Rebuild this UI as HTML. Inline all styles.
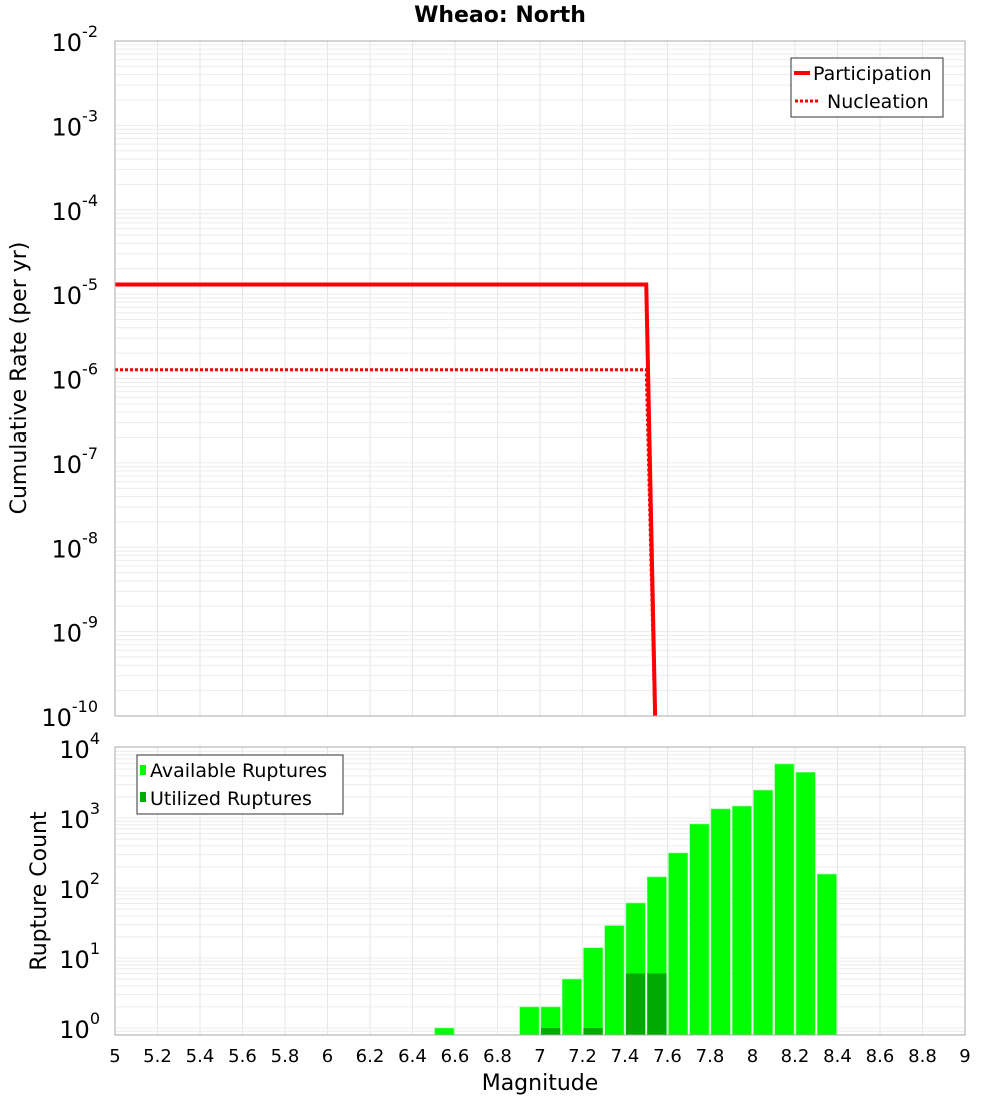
<!DOCTYPE html>
<html><head><meta charset="utf-8"><style>
body{margin:0;background:#fff;font-family:"Liberation Sans","DejaVu Sans",sans-serif}
</style></head><body>
<svg id="c" width="1000" height="1100" xmlns="http://www.w3.org/2000/svg" font-family="DejaVu Sans, Liberation Sans, sans-serif">
<text x="500" y="22" text-anchor="middle" font-weight="bold" font-size="22">Wheao: North</text>
<g id="top"></g><g id="bot"></g>
</svg>
<script>
const rateX=[5,7.5,7.55];
const participation=[1.3e-5,1.3e-5,1e-11];
const nucleation=[1.27e-6,1.27e-6,1e-11];
const binStarts=[6.5,6.9,7.0,7.1,7.2,7.3,7.4,7.5,7.6,7.7,7.8,7.9,8.0,8.1,8.2,8.3];
const available=[1,2,2,5,14,29,61,144,316,820,1350,1480,2500,5900,4500,158];
const utilized=[0,0,1,0,1,0,6,6,0,0,0,0,0,0,0,0];
const xTicks=[5,5.2,5.4,5.6,5.8,6,6.2,6.4,6.6,6.8,7,7.2,7.4,7.6,7.8,8,8.2,8.4,8.6,8.8,9];
const topExp=[-10,-9,-8,-7,-6,-5,-4,-3,-2];
const botExp=[0,1,2,3,4];
const NS="http://www.w3.org/2000/svg";
const L=115,R=965;
const xs=m=>L+(m-5)/4*(R-L);
const yTop=v=>41+(-2-Math.log10(v))*84.375;
const yBot=v=>1028-Math.log10(v)*70;
function mk(p,t,a){const e=document.createElementNS(NS,t);for(const k in a)e.setAttribute(k,a[k]);p.appendChild(e);return e;}
const gTop=document.getElementById('top'),gBot=document.getElementById('bot');
function grid(g,y0,y1,yf,emin,emax){
  xTicks.forEach(t=>{const l=mk(g,'line',{x1:xs(t),x2:xs(t),y1:y0,y2:y1,stroke:'#e6e6e6'});
  
  });
  for(let e=emin;e<emax;e++)for(let k=1;k<10;k++){const y=yf(k*Math.pow(10,e));if(y<y0||y>y1)continue;
    const l=mk(g,'line',{x1:L,x2:R,y1:y,y2:y,stroke:'#ececec'});
    
    }
}
grid(gTop,41,716,yTop,-10,-2);
topExp.forEach(e=>{const t=mk(gTop,'text',{x:98,y:yTop(Math.pow(10,e))+10,'text-anchor':'end','font-size':24});


t.textContent='10';const s=mk(t,'tspan',{dy:-14,'font-size':16});s.textContent=String(e);});
const cp=mk(gTop,'clipPath',{id:'cpt'});mk(cp,'rect',{x:L,y:41,width:R-L,height:675});
function path(arr){return rateX.map((m,i)=>(i?'L':'M')+xs(m)+','+yTop(arr[i])).join(' ');}
const pl=mk(gTop,'path',{d:path(participation),stroke:'#f00','stroke-width':4,fill:'none','clip-path':'url(#cpt)'});


const nl=mk(gTop,'path',{d:path(nucleation),stroke:'#f00','stroke-width':3,'stroke-dasharray':'3,2',fill:'none','clip-path':'url(#cpt)'});


const f1=mk(gTop,'rect',{x:L,y:41,width:R-L,height:675,fill:'none',stroke:'#aaa'});


const yt=mk(gTop,'text',{x:0,y:0,transform:'translate(26,378) rotate(-90)','text-anchor':'middle','font-size':22});


yt.textContent='Cumulative Rate (per yr)';
const lg=mk(gTop,'g',{});


mk(lg,'rect',{x:791,y:58,width:152,height:59,fill:'#fff',stroke:'#333'});
mk(lg,'line',{x1:794,x2:810,y1:73,y2:73,stroke:'#f00','stroke-width':4});
mk(lg,'line',{x1:795,x2:820,y1:101,y2:101,stroke:'#f00','stroke-width':3,'stroke-dasharray':'3,2'});
let t1=mk(lg,'text',{x:813,y:80,'font-size':19});t1.textContent='Participation';
let t2=mk(lg,'text',{x:827,y:108,'font-size':19});t2.textContent='Nucleation';
grid(gBot,747,1035,yBot,-1,4);
binStarts.forEach((m,i)=>{
  const x=xs(m)+1,w=xs(m+0.1)-xs(m)-2;
  const b=mk(gBot,'rect',{x:x,y:yBot(available[i]),width:w,height:1035-yBot(available[i]),fill:'#00ff00',stroke:'#7dff7d','stroke-width':0.6});
  
  
  if(utilized[i]>0){const u=mk(gBot,'rect',{x:x,y:yBot(utilized[i]),width:w,height:1035-yBot(utilized[i]),fill:'#00aa00'});
  
  }
});
const f2=mk(gBot,'rect',{x:L,y:747,width:R-L,height:288,fill:'none',stroke:'#aaa'});


botExp.forEach(e=>{const t=mk(gBot,'text',{x:100,y:yBot(Math.pow(10,e))+10,'text-anchor':'end','font-size':24});


t.textContent='10';const s=mk(t,'tspan',{dy:-14,'font-size':16});s.textContent=String(e);});
xTicks.forEach(v=>{const t=mk(gBot,'text',{x:xs(v),y:1062,'text-anchor':'middle','font-size':18});


t.textContent=String(v);});
const xt=mk(gBot,'text',{x:540,y:1090,'text-anchor':'middle','font-size':22});


xt.textContent='Magnitude';
const yt2=mk(gBot,'text',{x:0,y:0,transform:'translate(46,891) rotate(-90)','text-anchor':'middle','font-size':22});


yt2.textContent='Rupture Count';
const lg2=mk(gBot,'g',{});


mk(lg2,'rect',{x:137,y:755,width:206,height:59,fill:'#fff',stroke:'#333'});
mk(lg2,'rect',{x:140,y:765,width:6,height:10,fill:'#00ff00'});
mk(lg2,'rect',{x:140,y:792,width:6,height:10,fill:'#00aa00'});
let t3=mk(lg2,'text',{x:150,y:777,'font-size':19});t3.textContent='Available Ruptures';
let t4=mk(lg2,'text',{x:150,y:805,'font-size':19});t4.textContent='Utilized Ruptures';
</script>
</body></html>
